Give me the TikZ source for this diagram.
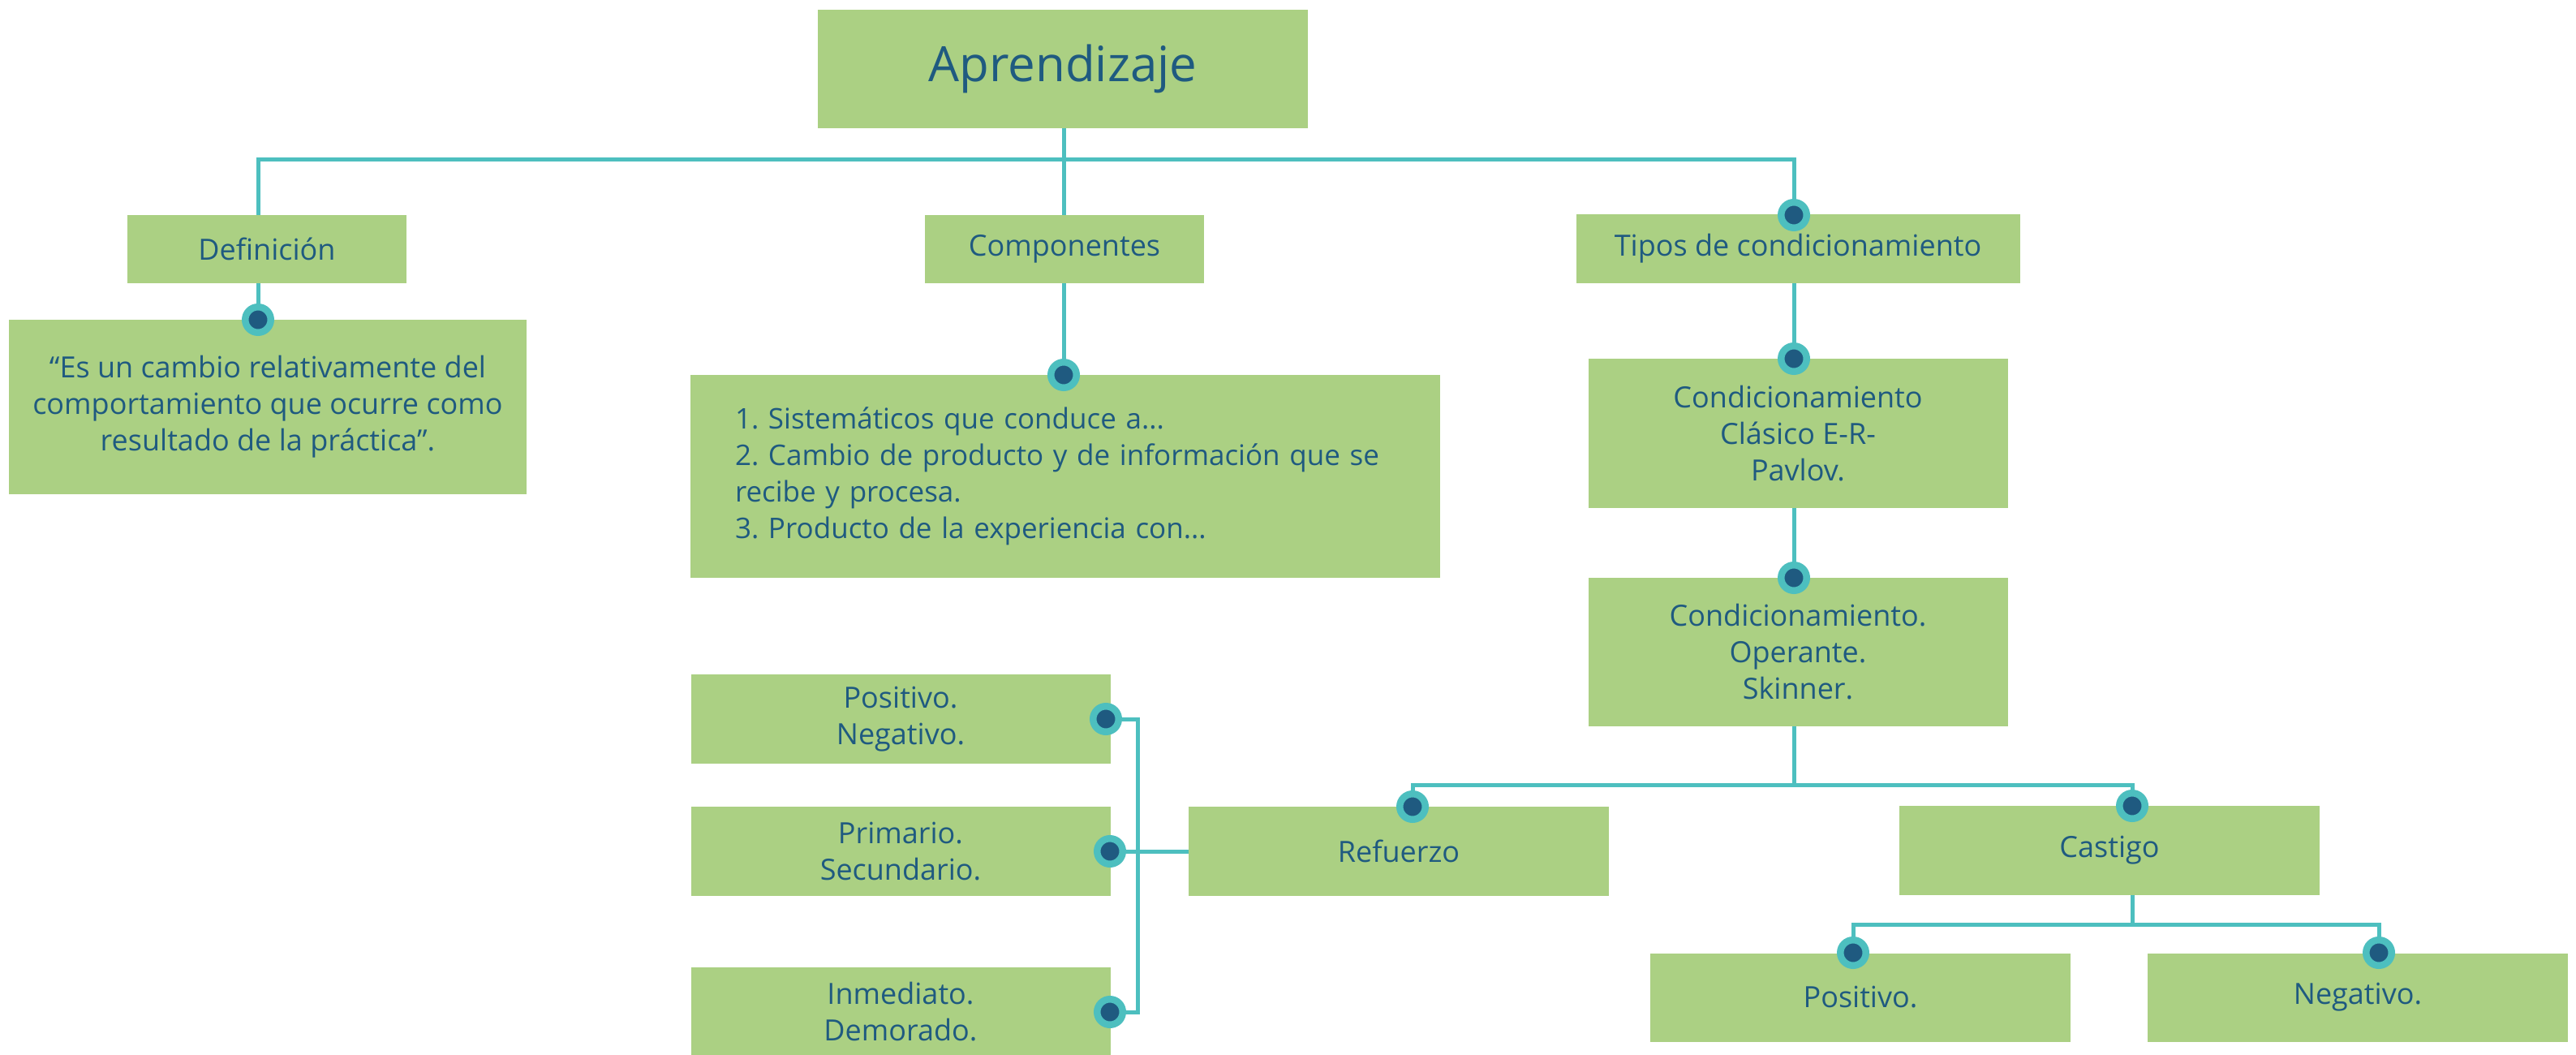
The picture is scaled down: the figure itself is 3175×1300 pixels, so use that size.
\documentclass[tikz,border=0pt]{standalone}
\usepackage{fontspec}
\setmainfont{Open Sans}
\usetikzlibrary{backgrounds}
\definecolor{boxgreen}{HTML}{ABD083}
\definecolor{lineteal}{HTML}{4DBFBF}
\definecolor{txtblue}{HTML}{1F5A80}
\frenchspacing
\begin{document}
\begin{tikzpicture}[x=1pt,y=-1pt,
  box/.style={fill=boxgreen, inner sep=0pt, text=txtblue, align=center, font=\fontsize{36}{45}\selectfont},
  conn/.style={draw=lineteal, line width=5pt},
  dotmark/.style={circle, fill=txtblue, draw=lineteal, line width=8.5pt, minimum size=31.5pt, inner sep=0pt}]
\useasboundingbox (0,0) rectangle (3175,1300);
% boxes
\node[box, minimum width=604pt, minimum height=146pt, font=\fontsize{60}{70}\selectfont] (apr) at (1310,85) {Aprendizaje};
\node[box, minimum width=344pt, minimum height=84pt] (def) at (329,307) {Definición};
\node[box, minimum width=344pt, minimum height=84pt] (comp) at (1312,307) {Componentes};
\node[box, minimum width=547pt, minimum height=85pt] (tipos) at (2216,306) {Tipos de condicionamiento};
\node[box, minimum width=638pt, minimum height=215pt] (deftext) at (330,501) {“Es un cambio relativamente del\\comportamiento que ocurre como\\resultado de la práctica”.};
\node[box, minimum width=924pt, minimum height=250pt, text width=814pt, align=left, font=\fontsize{35}{45}\selectfont] (complist) at (1313,587) {1. Sistemáticos que conduce a...\\2. Cambio de producto y de información que se\\recibe y procesa.\\3. Producto de la experiencia con...};
\node[box, minimum width=517pt, minimum height=184pt] (clas) at (2216,534) {Condicionamiento\\Clásico E-R-\\Pavlov.};
\node[box, minimum width=517pt, minimum height=183pt] (oper) at (2216,803) {Condicionamiento.\\Operante.\\Skinner.};
\node[box, minimum width=518pt, minimum height=110pt] (ref) at (1724,1049) {Refuerzo};
\node[box, minimum width=518pt, minimum height=110pt] (cast) at (2600,1048) {Castigo};
\node[box, minimum width=518pt, minimum height=109pt] (pos) at (2293,1229) {Positivo.};
\node[box, minimum width=518pt, minimum height=109pt] (neg) at (2906,1229) {Negativo.};
\node[box, minimum width=517pt, minimum height=110pt] (pn) at (1110,886) {Positivo.\\Negativo.};
\node[box, minimum width=517pt, minimum height=110pt] (ps) at (1110,1049) {Primario.\\Secundario.};
\node[box, minimum width=517pt, minimum height=110pt] (id) at (1110,1247) {Inmediato.\\Demorado.};
% junction points
\coordinate (bus) at (1311,197);
\coordinate (bus2) at (2211,967);
\coordinate (bus3) at (2628,1139);
\coordinate (jn) at (1402,1049);
% dots
\node[dotmark] (dDef) at (318,394) {};
\node[dotmark] (dComp) at (1311,462) {};
\node[dotmark] (dTipos) at (2211,265) {};
\node[dotmark] (dClas) at (2211,442) {};
\node[dotmark] (dOper) at (2211,712) {};
\node[dotmark] (dRef) at (1741,994) {};
\node[dotmark] (dCast) at (2628,993) {};
\node[dotmark] (dPos) at (2284,1174) {};
\node[dotmark] (dNeg) at (2932,1174) {};
\node[dotmark] (dPN) at (1363,886) {};
\node[dotmark] (dPS) at (1368,1049) {};
\node[dotmark] (dID) at (1368,1247) {};
% connectors
\begin{scope}[on background layer]
\fill[white] (0,0) rectangle (3175,1300);
\draw[conn] (bus |- apr.south) -- (bus);
\draw[conn] (dDef.center) |- (bus) -| (dTipos.center);
\draw[conn] (bus) -- (dComp.center);
\draw[conn] (dTipos.center) -- (dClas.center) -- (dOper.center) -- (bus2);
\draw[conn] (dRef.center) |- (bus2) -| (dCast.center);
\draw[conn] (dCast.center) -- (bus3);
\draw[conn] (dPos.center) |- (bus3) -| (dNeg.center);
\draw[conn] (ref.west) -- (jn);
\draw[conn] (dPN.center) -| (jn) |- (dID.center);
\draw[conn] (dPS.center) -- (jn);
\end{scope}
\end{tikzpicture}
\end{document}
